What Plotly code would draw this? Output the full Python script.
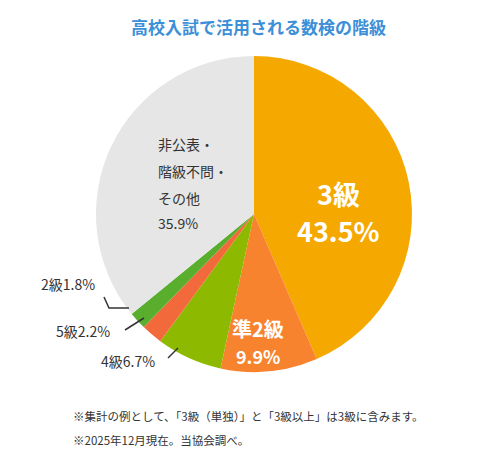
import plotly.graph_objects as go

labels = ["3級", "準2級", "4級", "5級", "2級", "非公表・階級不問・その他"]
values = [43.5, 9.9, 6.7, 2.2, 1.8, 35.9]
colors = ["#F5A800", "#F8832F", "#8DBA00", "#F26A3C", "#5AAE2E", "#E6E6E6"]
F = "Noto Sans CJK JP"

fig = go.Figure(go.Pie(labels=labels, values=values, sort=False, direction="clockwise",
                       rotation=0, marker=dict(colors=colors, line=dict(width=0)),
                       textinfo="none", hoverinfo="skip",
                       domain=dict(x=[88/500, 404/500], y=[1-364/450, 1-48/450])))

def ann(x, y, t, size, color, bold=False, anchor="center"):
    fig.add_annotation(x=x, y=y, xref="x", yref="y", text=f"<b>{t}</b>" if bold else t,
                       showarrow=False, xanchor=anchor, font=dict(size=size, color=color, family=F))

ann(250, 18, "高校入試で活用される数検の階級", 17, "#3D8FD8", True)
ann(330, 185, "3級", 27, "white", True)
ann(330, 222, "43.5%", 27, "white", True)
ann(250, 320, "準2級", 20, "white", True)
ann(250, 348, "9.9%", 18, "white", True)
for yy, t in [(136, "非公表・"), (163, "階級不問・"), (190, "その他"), (215, "35.9%")]:
    ann(148, yy, t, 14, "#333333", anchor="left")
ann(60, 276, "2級1.8%", 14, "#333333")
ann(75, 323, "5級2.2%", 14, "#333333")
ann(120, 353, "4級6.7%", 14, "#333333")
ann(63, 408, "※集計の例として、「3級（単独）」と「3級以上」は3級に含みます。", 11.5, "#333333", anchor="left")
ann(63, 432, "※2025年12月現在。当協会調べ。", 11.5, "#333333", anchor="left")

for pts in [[(96, 289), (101, 300), (121, 300)], [(117, 322), (136, 310)], [(160, 350), (170, 340)]]:
    path = "M" + " L".join(f"{x},{y}" for x, y in pts)
    fig.add_shape(type="path", path=path, xref="x", yref="y", line=dict(color="#333333", width=1.5))

fig.update_layout(width=500, height=450, margin=dict(l=0, r=0, t=0, b=0),
                  paper_bgcolor="white", plot_bgcolor="rgba(0,0,0,0)", showlegend=False,
                  xaxis=dict(range=[0, 500], visible=False, fixedrange=True),
                  yaxis=dict(range=[450, 0], visible=False, fixedrange=True))
fig.write_html("out.html")
